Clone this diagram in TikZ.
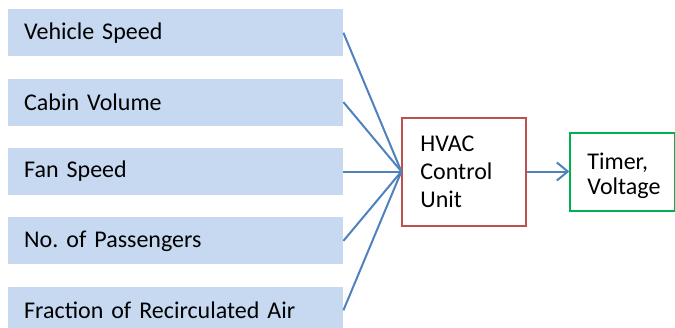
\documentclass[tikz,border=0pt]{standalone}
\usepackage{fontspec}
\setmainfont{Carlito}
\usepackage{xcolor}
\usepackage{tikz}
\usetikzlibrary{arrows.meta, positioning}

\definecolor{boxblue}{HTML}{C6D9F1}
\definecolor{linkblue}{HTML}{4F81BD}
\definecolor{unitred}{HTML}{C0504D}
\definecolor{outgreen}{HTML}{00B050}
\frenchspacing

\begin{document}
\begin{tikzpicture}[
    inbox/.style={rectangle, fill=boxblue, minimum width=335pt, minimum height=47pt, text width=303pt, inner xsep=16pt, align=left, font=\fontsize{24}{28}\selectfont},
    unit/.style={rectangle, draw=unitred, line width=2pt, minimum width=124pt, minimum height=108pt, text width=88pt, inner xsep=18pt, align=left, font=\fontsize{24}{28}\selectfont},
    outbox/.style={rectangle, draw=outgreen, line width=2pt, minimum width=105pt, minimum height=78pt, text width=71pt, inner xsep=17pt, text height=25pt, align=left, font=\fontsize{24}{25}\selectfont},
    link/.style={draw=linkblue, line width=2pt},
    arr/.style={link, -{Straight Barb[length=11pt, width=18pt, line width=2pt]}},
    node distance=22pt
]
\useasboundingbox (0,0) rectangle (675pt,-327pt);
\node[inbox, anchor=north west] (speed) at (8pt,-9pt) {Vehicle Speed};
\node[inbox, below=of speed] (volume) {Cabin Volume};
\node[inbox, below=of volume] (fan) {Fan Speed};
\node[inbox, below=of fan] (passengers) {No. of Passengers};
\node[inbox, below=of passengers] (recirc) {Fraction of Recirculated Air};
\node[unit, right=58pt of fan] (hvac) {HVAC\\Control\\Unit};
\node[outbox, right=42pt of hvac] (timer) {Timer,\\Voltage};

\foreach \src in {speed, volume, fan, passengers, recirc}
    \draw[link] (\src.east) -- (hvac.west);
\draw[arr] (hvac) -- (timer);
\end{tikzpicture}
\end{document}
